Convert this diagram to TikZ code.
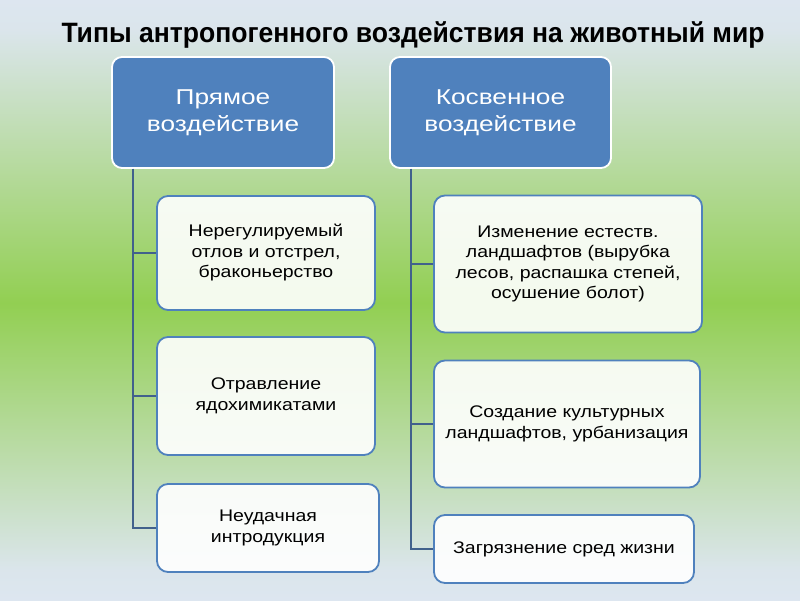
\documentclass[tikz,border=0pt]{standalone}
\usepackage{fontspec}
\setmainfont{Liberation Sans}
\newfontfamily\widefont[FakeStretch=1.16]{Liberation Sans}
\newfontfamily\hdrfont[FakeStretch=1.22]{Liberation Sans}
\usepackage{graphicx}
\definecolor{bgtop}{HTML}{DDE6F0}
\definecolor{bggreen}{HTML}{92CF52}
\definecolor{hdrblue}{HTML}{4F81BD}
\definecolor{connblue}{HTML}{41618C}
\pgfdeclareverticalshading{slidebg}{100bp}{color(0bp)=(bgtop); color(25bp)=(bgtop); color(27.5bp)=(bgtop!97!bggreen); color(49.75bp)=(bggreen); color(72.5bp)=(bgtop!97!bggreen); color(75bp)=(bgtop); color(100bp)=(bgtop)}
\tikzset{
  hdrbox/.style={draw=white, line width=1.8pt, fill=hdrblue, rounded corners=10pt, text=white, align=center, font=\hdrfont\fontsize{21.5}{27}\selectfont, inner sep=0pt},
  itembox/.style={draw=hdrblue, line width=1.8pt, fill=white, fill opacity=0.9, text opacity=1, rounded corners=11pt, text=black, align=center, font=\widefont\fontsize{16.8}{20.5}\selectfont, inner sep=0pt},
  conn/.style={draw=connblue, line width=1.6pt}
}
\begin{document}
\begin{tikzpicture}[x=1pt,y=-1pt]
\useasboundingbox (0,0) rectangle (800,600);
\fill[shading=slidebg] (0,0) rectangle (800,600);
\node[anchor=base, inner sep=0pt] (title) at (413,42) {\resizebox{703pt}{\height}{\fontsize{28}{32}\selectfont\bfseries Типы антропогенного воздействия на животный мир}};
% headers
\node[hdrbox, minimum width=222pt, minimum height=111pt] (h1) at (223,112.5) {Прямое\\воздействие};
\node[hdrbox, minimum width=221pt, minimum height=111pt] (h2) at (500.5,112.5) {Косвенное\\воздействие};
% left items
\node[itembox, minimum width=218pt, minimum height=114pt] (a1) at (266,253) {Нерегулируемый\\отлов и отстрел,\\браконьерство};
\node[itembox, minimum width=218pt, minimum height=118pt] (a2) at (266,396) {Отравление\\ядохимикатами};
\node[itembox, minimum width=222pt, minimum height=88pt] (a3) at (268,528) {Неудачная\\интродукция};
% right items
\node[itembox, minimum width=268pt, minimum height=137pt] (b1) at (568,264) {Изменение естеств.\\ландшафтов (вырубка\\лесов, распашка степей,\\осушение болот)};
\node[itembox, minimum width=266pt, minimum height=127pt] (b2) at (567,424) {Создание культурных\\ландшафтов, урбанизация};
\node[itembox, minimum width=260pt, minimum height=68pt] (b3) at (564,549) {Загрязнение сред жизни};
% connectors
\coordinate (l0) at ([xshift=22pt]h1.south west);
\coordinate (r0) at ([xshift=22pt]h2.south west);
\draw[conn] (l0) |- (a1.west);
\draw[conn] (l0) |- (a2.west);
\draw[conn] (l0) |- (a3.west);
\draw[conn] (r0) |- (b1.west);
\draw[conn] (r0) |- (b2.west);
\draw[conn] (r0) |- (b3.west);
\end{tikzpicture}
\end{document}
